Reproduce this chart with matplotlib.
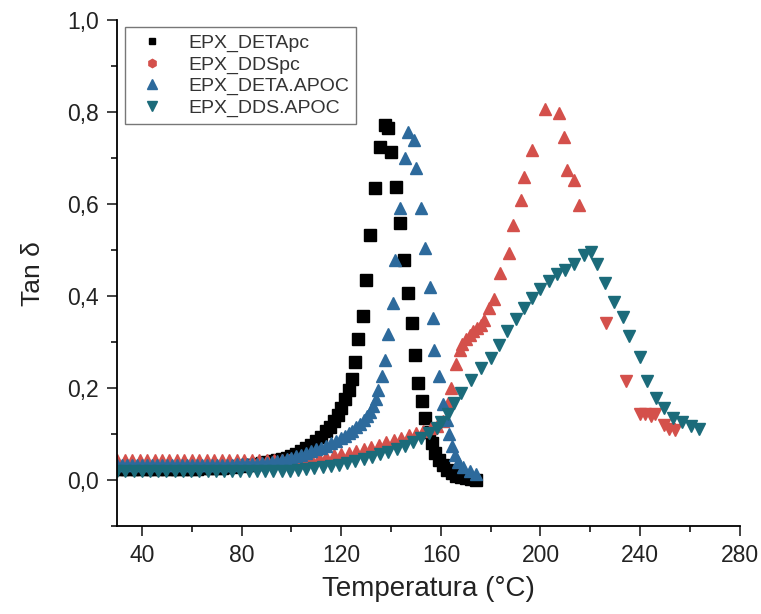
import numpy as np
import matplotlib.pyplot as plt
from matplotlib.ticker import MultipleLocator, FuncFormatter
from matplotlib.lines import Line2D

plt.rcParams['font.family'] = ['Liberation Sans', 'DejaVu Sans']

# ---------------------------------------------------
# Tan delta curves (DMA) for the four systems
# ---------------------------------------------------

labels = ["EPX_DETApc", "EPX_DDSpc", "EPX_DETA.APOC", "EPX_DDS.APOC"]

t_detapc = [30, 32, 34, 36, 38, 40, 42, 44, 46, 48, 50, 52, 54, 56, 58, 60, 62, 64, 66, 68,
            70, 72, 74, 76, 78, 80, 82, 84, 86, 88, 90, 92, 94, 96, 98, 100,
            102, 104, 106, 108, 110, 112, 114, 115.5, 117, 118.5, 120, 121.5, 123, 124.3,
            125.5, 126.9, 128.6, 130.1, 131.7, 133.7, 135.5, 137.5, 138.9, 140.1, 142.1,
            143.4, 145.0, 146.6, 148.2, 149.6, 151.0, 152.6, 153.8, 155.3, 156.5, 157.8,
            159.2, 160.8, 162.5, 164.3, 166.2, 168.1, 170.1, 172.1, 174.2]
tan_detapc = [0.024, 0.024, 0.024, 0.024, 0.024, 0.024, 0.024, 0.024, 0.024, 0.024,
              0.024, 0.024, 0.025, 0.025, 0.025, 0.025, 0.025, 0.026, 0.026, 0.026,
              0.027, 0.027, 0.028, 0.029, 0.030, 0.031, 0.032, 0.033, 0.035, 0.037,
              0.039, 0.041, 0.043, 0.046, 0.049, 0.053,
              0.058, 0.063, 0.070, 0.077, 0.085, 0.095, 0.106, 0.116, 0.128, 0.142,
              0.158, 0.176, 0.196, 0.219,
              0.256, 0.306, 0.356, 0.436, 0.534, 0.635, 0.725, 0.772, 0.765, 0.714, 0.638,
              0.560, 0.479, 0.408, 0.341, 0.273, 0.212, 0.172, 0.136, 0.105, 0.080, 0.060,
              0.045, 0.032, 0.022, 0.015, 0.010, 0.006, 0.004, 0.002, 0.001]

t_ddspc = [30, 33, 36, 39, 42, 45, 48, 51, 54, 57, 60, 63, 66, 69, 72, 75, 78, 81, 84, 87,
           90, 93, 96, 99, 102, 105, 108, 111, 114, 117, 120, 123, 126, 129, 132, 135, 138,
           141, 144, 147, 150, 153, 156, 158.5, 160.8, 162.8, 164.1, 166.1, 167.5, 168.5,
           170.0, 171.5, 173.0, 174.5, 176.0, 177.5, 179.4, 181.4, 183.6, 187.2, 189.1,
           192.0, 193.4, 196.7, 202.0, 207.3, 209.3, 210.6, 213.3, 215.3,
           226.2, 234.2, 240.0, 242.0, 244.5, 246.0, 249.5, 251.5, 254.0]
tan_ddspc = [0.044, 0.044, 0.044, 0.044, 0.044, 0.044, 0.044, 0.044, 0.044, 0.044,
             0.044, 0.044, 0.044, 0.044, 0.044, 0.044, 0.044, 0.044, 0.044, 0.044,
             0.044, 0.044, 0.044, 0.045, 0.045, 0.046, 0.047, 0.049, 0.051, 0.054,
             0.057, 0.060, 0.064, 0.068, 0.072, 0.077, 0.082, 0.087, 0.092, 0.098,
             0.103, 0.108, 0.113, 0.118, 0.128, 0.168, 0.201, 0.252, 0.284, 0.297,
             0.308, 0.316, 0.324, 0.330, 0.338, 0.349, 0.375, 0.393, 0.451, 0.495, 0.555,
             0.610, 0.660, 0.718, 0.808, 0.798, 0.747, 0.675, 0.653, 0.599,
             0.342, 0.215, 0.143, 0.145, 0.140, 0.143, 0.120, 0.112, 0.110]

t_deta_apoc = [30, 32, 34, 36, 38, 40, 42, 44, 46, 48, 50, 52, 54, 56, 58, 60, 62, 64, 66,
               68, 70, 72, 74, 76, 78, 80, 82, 84, 86, 88, 90, 92, 94, 96, 98, 100, 102,
               104, 106, 108, 110, 112, 114, 116, 118, 120, 121.5, 123, 124.5, 126, 127.5,
               129, 130.3, 131.5, 132.7, 133.8, 134.9, 136.2, 137.4, 138.6, 140.6, 141.5,
               143.5, 145.5, 146.8, 149.3, 150.1, 152.1, 153.8, 155.8, 156.8, 157.4, 159.4,
               161.0, 162.3, 163.4, 164.3, 165.5, 167.0, 169.0, 171.5, 174.0]
tan_deta_apoc = [0.033, 0.033, 0.033, 0.033, 0.033, 0.033, 0.033, 0.033, 0.033, 0.033,
                 0.033, 0.033, 0.033, 0.033, 0.033, 0.033, 0.033, 0.033, 0.034, 0.034,
                 0.034, 0.034, 0.034, 0.034, 0.035, 0.035, 0.035, 0.036, 0.036, 0.037,
                 0.038, 0.040, 0.042, 0.044, 0.046, 0.049, 0.052, 0.055, 0.059, 0.063,
                 0.067, 0.071, 0.075, 0.080, 0.085, 0.091, 0.096, 0.102, 0.108, 0.115,
                 0.122, 0.130, 0.139, 0.149, 0.161, 0.177, 0.197, 0.226, 0.262, 0.317,
                 0.385, 0.479, 0.592, 0.700, 0.758, 0.740, 0.678, 0.592, 0.505, 0.421,
                 0.353, 0.284, 0.226, 0.165, 0.130, 0.100, 0.075, 0.055, 0.040, 0.028,
                 0.020, 0.013]

t_dds_apoc = [30, 33.3, 36.6, 39.9, 43.2, 46.5, 49.8, 53.1, 56.4, 59.7, 63.0, 66.3, 69.6,
              72.9, 76.2, 79.5, 82.8, 86.1, 89.4, 92.7, 96.0, 99.3, 102.6, 105.9, 109.2,
              112.5, 115.8, 119.1, 122.4, 125.7, 129.0, 132.3, 135.6, 138.9, 142.2, 145.5,
              148.8, 152.1, 155.4, 158.5, 160.1, 162.8, 165.4, 168.1, 172.1, 176.1, 180.0,
              183.4, 186.7, 190.0, 193.4, 196.7, 200.0, 203.3, 206.6, 210.0, 213.3, 217.3,
              220.3, 222.6, 225.9, 229.5, 233.2, 235.6, 239.9, 242.9, 246.2, 249.5, 253.2,
              256.8, 260.5, 263.8]
tan_dds_apoc = [0.020, 0.020, 0.020, 0.020, 0.020, 0.020, 0.020, 0.020, 0.020, 0.020,
                0.020, 0.020, 0.020, 0.020, 0.020, 0.020, 0.020, 0.020, 0.020, 0.021,
                0.021, 0.021, 0.022, 0.024, 0.026, 0.028, 0.031, 0.034, 0.038, 0.042,
                0.046, 0.051, 0.056, 0.062, 0.068, 0.075, 0.083, 0.092, 0.102, 0.114,
                0.127, 0.145, 0.168, 0.190, 0.217, 0.243, 0.266, 0.295, 0.324, 0.350,
                0.375, 0.397, 0.416, 0.434, 0.449, 0.457, 0.470, 0.490, 0.497, 0.470,
                0.428, 0.387, 0.354, 0.313, 0.268, 0.215, 0.179, 0.156, 0.135, 0.127,
                0.118, 0.111]

c_black = "#000000"
c_red = "#d4504b"
c_blue = "#2d6a9c"
c_teal = "#1b6b7a"
c_text = "#222222"

# ---------------------------------------------------
# Plot (series drawn in legend order, later ones on top)
# ---------------------------------------------------

fig = plt.figure(figsize=(7.61, 6.14), dpi=100)
ax = fig.add_axes([0.154, 0.143, 0.818, 0.824])

ax.plot(t_detapc, tan_detapc, ls="none", marker="s", ms=8, color=c_black, mec=c_black)

# red points: up triangles on the rise/peak, down triangles on the tail
t_r = np.array(t_ddspc)
y_r = np.array(tan_ddspc)
tail = t_r > 220
ax.plot(t_r[~tail], y_r[~tail], ls="none", marker="^", ms=9, color=c_red, mec=c_red)
ax.plot(t_r[tail], y_r[tail], ls="none", marker="v", ms=9, color=c_red, mec=c_red)

ax.plot(t_deta_apoc, tan_deta_apoc, ls="none", marker="^", ms=9, color=c_blue, mec=c_blue)
ax.plot(t_dds_apoc, tan_dds_apoc, ls="none", marker="v", ms=9, color=c_teal, mec=c_teal)

ax.set_xlim(30, 280)
ax.set_ylim(-0.1, 1.0)

ax.spines["top"].set_visible(False)
ax.spines["right"].set_visible(False)
for s in ("left", "bottom"):
    ax.spines[s].set_linewidth(1.3)

ax.set_xticks([40, 80, 120, 160, 200, 240, 280])
ax.xaxis.set_minor_locator(MultipleLocator(20))
ax.yaxis.set_major_locator(MultipleLocator(0.2))
ax.yaxis.set_minor_locator(MultipleLocator(0.1))
ax.yaxis.set_major_formatter(FuncFormatter(lambda v, p: f"{v:.1f}".replace(".", ",")))

ax.tick_params(which="major", direction="out", length=7, width=1.2, colors=c_text,
               pad=6, labelsize=16.5)
ax.tick_params(which="minor", direction="out", length=4, width=1.1)

ax.set_xlabel("Temperatura (°C)", fontsize=20, color=c_text, labelpad=6)
ax.set_ylabel("Tan δ", fontsize=19, color=c_text, labelpad=16)

handles = [
    Line2D([], [], ls="none", marker="s", ms=5, color=c_black),
    Line2D([], [], ls="none", marker="h", ms=6, color=c_red),
    Line2D([], [], ls="none", marker="^", ms=7, color=c_blue),
    Line2D([], [], ls="none", marker="v", ms=7, color=c_teal),
]
leg = ax.legend(handles, labels, loc="upper left", bbox_to_anchor=(0.013, 0.986),
                borderaxespad=0, fontsize=14, frameon=True, fancybox=False,
                handletextpad=0.9, labelspacing=0.2, borderpad=0.35, handlelength=2.0)
leg.get_frame().set_edgecolor("#555555")
leg.get_frame().set_linewidth(1.0)
for txt in leg.get_texts():
    txt.set_color("#333333")

fig.savefig("out.png", dpi=100)
